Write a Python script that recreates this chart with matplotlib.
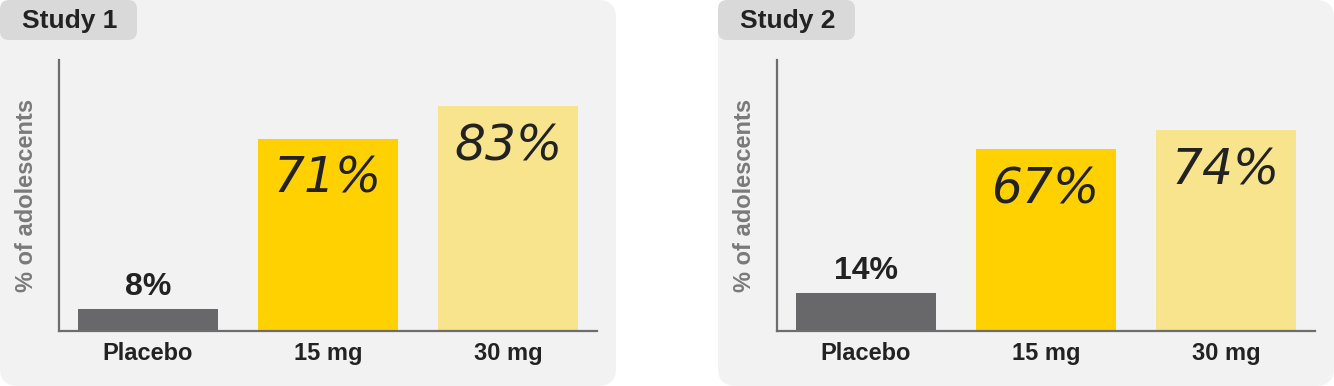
import matplotlib
matplotlib.use('Agg')
import matplotlib.pyplot as plt
from matplotlib.patches import FancyBboxPatch

categories = ['Placebo', '15 mg', '30 mg']
study_titles = ['Study 1', 'Study 2']
study1_values = [8, 71, 83]
study2_values = [14, 67, 74]
bar_colors = ['#68686a', '#ffd100', '#f7e48c']
y_label = '% of adolescents'

plt.rcParams['font.family'] = ['Liberation Sans', 'DejaVu Sans']

W, H = 1334, 386
fig = plt.figure(figsize=(W / 100, H / 100), dpi=100)
fig.patch.set_facecolor('white')

bg = fig.add_axes([0, 0, 1, 1], zorder=0)
bg.set_xlim(0, W)
bg.set_ylim(H, 0)
bg.axis('off')

panels = [(0, 616), (718, 1334)]
axis_spans = [(59, 597), (777, 1315)]
TEXT = '#222222'

for (x0, x1), title in zip(panels, study_titles):
    bg.add_patch(FancyBboxPatch((x0, 0), x1 - x0, H,
                                boxstyle='round,pad=0,rounding_size=18',
                                fc='#f2f2f2', ec='none'))
    bg.add_patch(FancyBboxPatch((x0, 0), 137, 40,
                                boxstyle='round,pad=0,rounding_size=9',
                                fc='#d9d9d9', ec='none'))
    bg.text(x0 + 70, 21, title, ha='center', va='center', fontsize=19,
            fontweight='bold', color=TEXT)

top_px, base_px = 60, 331
for (ax0, ax1x), values in zip(axis_spans, [study1_values, study2_values]):
    ax = fig.add_axes([ax0 / W, (H - base_px) / H, (ax1x - ax0) / W,
                       (base_px - top_px) / H], zorder=2)
    ax.set_facecolor('none')
    x = list(range(len(categories)))
    ax.bar(x, values, width=0.778, color=bar_colors, zorder=2)
    ax.set_xlim(-0.494, 2.494)
    ax.set_ylim(0, 100)
    for s in ['top', 'right']:
        ax.spines[s].set_visible(False)
    for s in ['left', 'bottom']:
        ax.spines[s].set_color('#6d6d6d')
        ax.spines[s].set_linewidth(1.6)
    ax.set_yticks([])
    ax.set_xticks(x)
    ax.set_xticklabels(categories, fontsize=17, fontweight='bold', color=TEXT)
    ax.tick_params(axis='x', length=0, pad=8)
    ax.set_ylabel(y_label, fontsize=17, fontweight='bold', color='#7a7a7a',
                  labelpad=15)
    for i, v in enumerate(values):
        if i == 0:
            ax.text(i, v + 2.6, f'{v}%', ha='center', va='bottom', fontsize=23,
                    fontweight='bold', color=TEXT, zorder=3)
        else:
            ax.text(i, v - 14.8, f'{v}%', ha='center', va='center', fontsize=35,
                    fontstyle='italic', family='DejaVu Sans', color=TEXT,
                    zorder=3)

fig.savefig('out.png', dpi=100, facecolor='white')
